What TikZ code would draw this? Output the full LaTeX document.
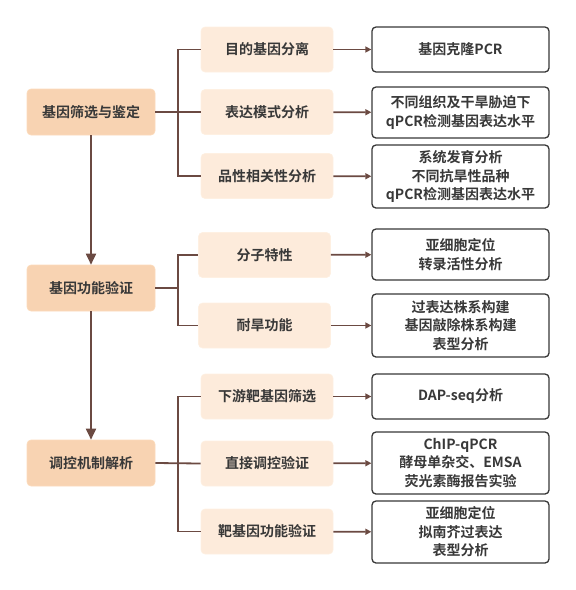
\documentclass[tikz,border=0pt]{standalone}
\usepackage{fontspec}
\newfontfamily\cjk{Noto Sans CJK SC}[BoldFont={Noto Sans CJK SC Bold}]
\usetikzlibrary{arrows.meta}
\definecolor{brun}{HTML}{6B4A42}
\definecolor{peche}{HTML}{F8D3B2}
\definecolor{pechecl}{HTML}{FDEBDB}
\definecolor{texte}{HTML}{383838}
\begin{document}
\begin{tikzpicture}[x=1pt, y=-1pt,
    every node/.style={font=\cjk\bfseries\fontsize{14}{18.5}\selectfont, text=texte},
    etape/.style={draw=peche!80!orange!60, fill=peche, rounded corners=4pt, minimum width=128pt, minimum height=46pt, line width=0.6pt},
    tache/.style={draw=pechecl!90!orange!50, fill=pechecl, rounded corners=4pt, minimum width=132pt, minimum height=45pt, line width=0.6pt},
    methode/.style={draw=texte, fill=white, rounded corners=4pt, minimum width=177pt, line width=1.3pt, align=center, inner sep=2pt},
    lien/.style={draw=brun, line width=1.8pt},
    fleche/.style={lien, -{Triangle[length=6pt, width=6pt]}},
    grande/.style={lien, -{Triangle[length=11pt, width=10pt]}}]
    \useasboundingbox (0,0) rectangle (576,590);

    % Etapes principales
    \node[etape] (crible) at (91,112) {基因筛选与鉴定};
    \node[etape] (fonction) at (91,288) {基因功能验证};
    \node[etape] (regul) at (91,463) {调控机制解析};

    % Taches
    \node[tache] (isol) at (267,49.5) {目的基因分离};
    \node[tache] (expr) at (267,112) {表达模式分析};
    \node[tache] (corr) at (267,176) {品性相关性分析};
    \node[tache] (molec) at (264.5,255) {分子特性};
    \node[tache] (seche) at (264.5,325.5) {耐旱功能};
    \node[tache] (aval) at (267,396.5) {下游靶基因筛选};
    \node[tache] (direct) at (267,463.5) {直接调控验证};
    \node[tache] (cible) at (267,531.5) {靶基因功能验证};

    % Methodes
    \node[methode, minimum height=45pt] (clonage) at (460.5,49.5) {基因克隆PCR};
    \node[methode, minimum height=51pt] (qpcr) at (460.5,112.5) {不同组织及干旱胁迫下\\qPCR检测基因表达水平};
    \node[methode, minimum height=63pt] (phylo) at (460.5,176.5) {系统发育分析\\不同抗旱性品种\\qPCR检测基因表达水平};
    \node[methode, minimum height=51pt] (locali) at (460.5,254.5) {亚细胞定位\\转录活性分析};
    \node[methode, minimum height=63pt] (lignee) at (460.5,325.5) {过表达株系构建\\基因敲除株系构建\\表型分析};
    \node[methode, minimum height=45pt] (dap) at (460.5,396.5) {DAP-seq分析};
    \node[methode, minimum height=62pt] (chip) at (460.5,463) {ChIP-qPCR\\酵母单杂交、EMSA\\荧光素酶报告实验};
    \node[methode, minimum height=62pt] (arabi) at (460.5,532) {亚细胞定位\\拟南芥过表达\\表型分析};

    % Enchainement vertical
    \draw[grande] (crible) -- (fonction);
    \draw[grande] (fonction) -- (regul);

    % Branches
    \coordinate (bus1) at (178,112);
    \coordinate (bus2) at (178,288);
    \coordinate (bus3) at (178,463);
    \draw[lien] (crible.east) -- (expr.west);
    \draw[lien] (isol.west) -| (bus1) |- (corr.west);
    \draw[lien] (fonction.east) -- (bus2);
    \draw[lien] (molec.west) -| (bus2) |- (seche.west);
    \draw[lien] (regul.east) -- (direct.west);
    \draw[lien] (aval.west) -| (bus3) |- (cible.west);

    % Vers les methodes
    \draw[fleche] (isol) -- (clonage);
    \draw[fleche] (expr) -- (qpcr);
    \draw[fleche] (corr) -- (phylo);
    \draw[fleche] (molec) -- (locali);
    \draw[fleche] (seche) -- (lignee);
    \draw[fleche] (aval) -- (dap);
    \draw[fleche] (direct) -- (chip);
    \draw[fleche] (cible) -- (arabi);
\end{tikzpicture}
\end{document}
